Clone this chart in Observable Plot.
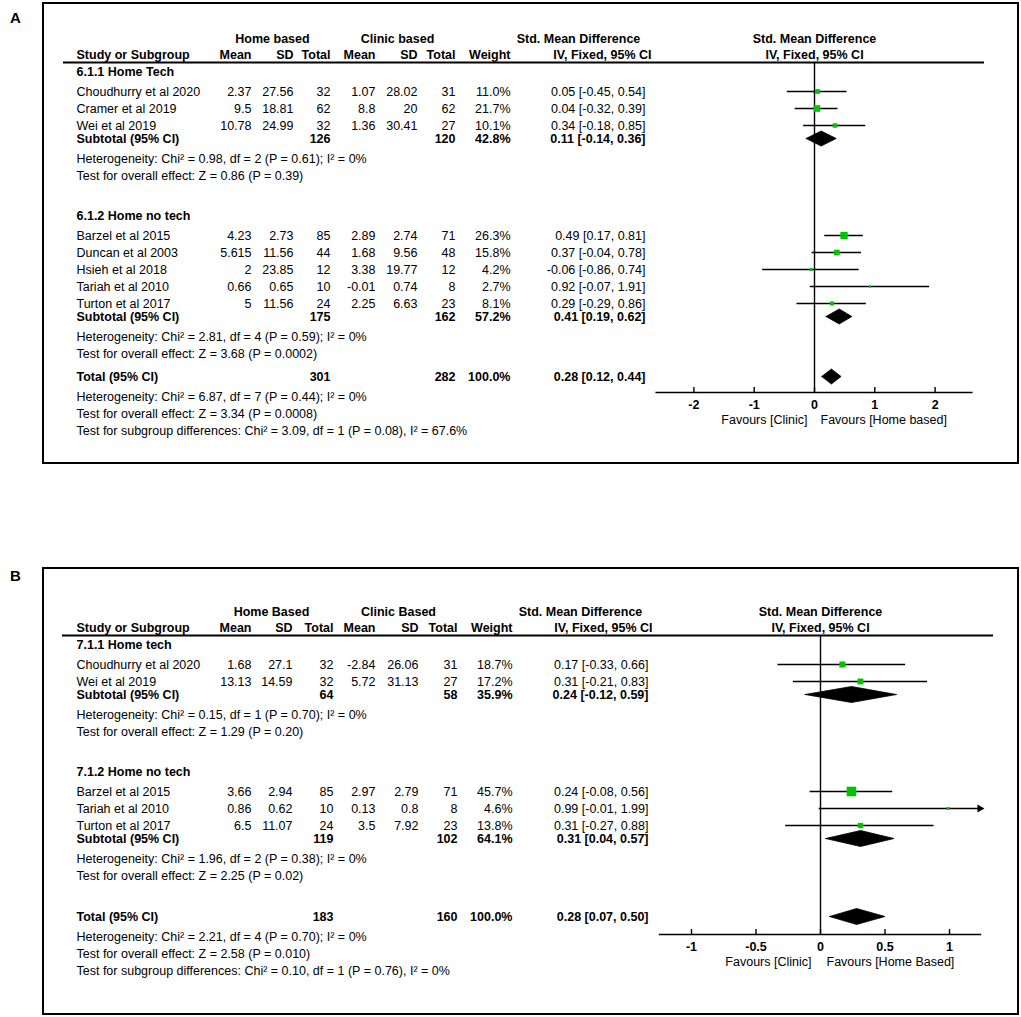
<!DOCTYPE html>
<html><head><meta charset="utf-8">
<script src="https://cdn.jsdelivr.net/npm/d3@7"></script>
<script src="https://cdn.jsdelivr.net/npm/@observablehq/plot@0.6"></script>
<style>
body{margin:0;background:#fff;font-family:"Liberation Sans",Arial,sans-serif;}
#page{position:relative;width:1021px;height:1017px;overflow:hidden;background:#fff;}
.panel{position:absolute;left:0;width:1021px;}
.box{position:absolute;border:2px solid #000;box-sizing:border-box;pointer-events:none;}
.lbl{position:absolute;font:bold 15px "Liberation Sans",Arial,sans-serif;line-height:16px;}
</style></head><body><div id="page"></div>
<script>
// ---------------- Panel A data ----------------
const A_colHeads = ["Home based", "Clinic based"];
const A_groups = ["6.1.1 Home Tech", "6.1.2 Home no tech"];
const A_study = ["Choudhurry et al 2020","Cramer et al 2019","Wei et al 2019","Barzel et al 2015","Duncan et al 2003","Hsieh et al 2018","Tariah et al 2010","Turton et al 2017"];
const A_group = [0,0,0,1,1,1,1,1];
const A_homeMean = [2.37, 9.5, 10.78, 4.23, 5.615, 2, 0.66, 5];
const A_homeSD = [27.56, 18.81, 24.99, 2.73, 11.56, 23.85, 0.65, 11.56];
const A_homeN = [32, 62, 32, 85, 44, 12, 10, 24];
const A_clinMean = [1.07, 8.8, 1.36, 2.89, 1.68, 3.38, -0.01, 2.25];
const A_clinSD = [28.02, 20, 30.41, 2.74, 9.56, 19.77, 0.74, 6.63];
const A_clinN = [31, 62, 27, 71, 48, 12, 8, 23];
const A_weight = [11.0, 21.7, 10.1, 26.3, 15.8, 4.2, 2.7, 8.1];
const A_smd = [0.05, 0.04, 0.34, 0.49, 0.37, -0.06, 0.92, 0.29];
const A_lo = [-0.45, -0.32, -0.18, 0.17, -0.04, -0.86, -0.07, -0.29];
const A_hi = [0.54, 0.39, 0.85, 0.81, 0.78, 0.74, 1.91, 0.86];
const A_subHomeN = [126, 175];
const A_subClinN = [120, 162];
const A_subWeight = [42.8, 57.2];
const A_subSmd = [0.11, 0.41];
const A_subLo = [-0.14, 0.19];
const A_subHi = [0.36, 0.62];
const A_subHet = ["Heterogeneity: Chi² = 0.98, df = 2 (P = 0.61); I² = 0%", "Heterogeneity: Chi² = 2.81, df = 4 (P = 0.59); I² = 0%"];
const A_subTest = ["Test for overall effect: Z = 0.86 (P = 0.39)", "Test for overall effect: Z = 3.68 (P = 0.0002)"];
const A_totN = [301, 282];
const A_totWeight = 100.0;
const A_totCI = [0.28, 0.12, 0.44];
const A_totNotes = ["Heterogeneity: Chi² = 6.87, df = 7 (P = 0.44); I² = 0%", "Test for overall effect: Z = 3.34 (P = 0.0008)", "Test for subgroup differences: Chi² = 3.09, df = 1 (P = 0.08), I² = 67.6%"];
const A_ticks = [-2, -1, 0, 1, 2];
const A_favours = ["Favours [Clinic]", "Favours [Home based]"];

// ---------------- Panel B data ----------------
const B_colHeads = ["Home Based", "Clinic Based"];
const B_groups = ["7.1.1 Home tech", "7.1.2 Home no tech"];
const B_study = ["Choudhurry et al 2020","Wei et al 2019","Barzel et al 2015","Tariah et al 2010","Turton et al 2017"];
const B_group = [0,0,1,1,1];
const B_homeMean = [1.68, 13.13, 3.66, 0.86, 6.5];
const B_homeSD = [27.1, 14.59, 2.94, 0.62, 11.07];
const B_homeN = [32, 32, 85, 10, 24];
const B_clinMean = [-2.84, 5.72, 2.97, 0.13, 3.5];
const B_clinSD = [26.06, 31.13, 2.79, 0.8, 7.92];
const B_clinN = [31, 27, 71, 8, 23];
const B_weight = [18.7, 17.2, 45.7, 4.6, 13.8];
const B_smd = [0.17, 0.31, 0.24, 0.99, 0.31];
const B_lo = [-0.33, -0.21, -0.08, -0.01, -0.27];
const B_hi = [0.66, 0.83, 0.56, 1.99, 0.88];
const B_subHomeN = [64, 119];
const B_subClinN = [58, 102];
const B_subWeight = [35.9, 64.1];
const B_subSmd = [0.24, 0.31];
const B_subLo = [-0.12, 0.04];
const B_subHi = [0.59, 0.57];
const B_subHet = ["Heterogeneity: Chi² = 0.15, df = 1 (P = 0.70); I² = 0%", "Heterogeneity: Chi² = 1.96, df = 2 (P = 0.38); I² = 0%"];
const B_subTest = ["Test for overall effect: Z = 1.29 (P = 0.20)", "Test for overall effect: Z = 2.25 (P = 0.02)"];
const B_totN = [183, 160];
const B_totWeight = 100.0;
const B_totCI = [0.28, 0.07, 0.50];
const B_totNotes = ["Heterogeneity: Chi² = 2.21, df = 4 (P = 0.70); I² = 0%", "Test for overall effect: Z = 2.58 (P = 0.010)", "Test for subgroup differences: Chi² = 0.10, df = 1 (P = 0.76), I² = 0%"];
const B_ticks = [-1, -0.5, 0, 0.5, 1];
const B_favours = ["Favours [Clinic]", "Favours [Home Based]"];

// shared header texts
const headTopCI = "Std. Mean Difference";
const headCols = ["Study or Subgroup", "Mean", "SD", "Total", "Mean", "SD", "Total", "Weight"];
const headCI = "IV, Fixed, 95% CI";

const GREEN = "#00c400";
const FONT = "'Liberation Sans', Arial, sans-serif";
const FS = 12.5;

const f2 = v => v.toFixed(2);
const ci = (m, l, h) => `${f2(m)} [${f2(l)}, ${f2(h)}]`;
const pct = v => v.toFixed(1) + "%";

function buildRows(d, L) {
  const rows = [];
  const hdr1 = L.header1Y, hdr2 = hdr1 + 16, line = hdr1 + 24;
  let y = line + 9;
  d.groups.forEach((g, gi) => {
    if (gi > 0) y += 40;
    rows.push({kind: "group", y, label: g});
    let first = true;
    d.study.forEach((s, i) => {
      if (d.group[i] !== gi) return;
      y += first ? 20 : 17; first = false;
      rows.push({kind: "study", y, label: s, hm: String(d.homeMean[i]), hsd: String(d.homeSD[i]), hn: String(d.homeN[i]),
        cm: String(d.clinMean[i]), csd: String(d.clinSD[i]), cn: String(d.clinN[i]), w: pct(d.weight[i]),
        ci: ci(d.smd[i], d.lo[i], d.hi[i]), smd: d.smd[i], lo: d.lo[i], hi: d.hi[i], wt: d.weight[i]});
    });
    y += 13;
    rows.push({kind: "sub", y, label: "Subtotal (95% CI)", hn: String(d.subHomeN[gi]), cn: String(d.subClinN[gi]), w: pct(d.subWeight[gi]),
      ci: ci(d.subSmd[gi], d.subLo[gi], d.subHi[gi]), smd: d.subSmd[gi], lo: d.subLo[gi], hi: d.subHi[gi]});
    y += 20; rows.push({kind: "note", y, label: d.subHet[gi]});
    y += 17; rows.push({kind: "note", y, label: d.subTest[gi]});
  });
  y += L.totalGap;
  const totalY = y;
  rows.push({kind: "sub", y, label: "Total (95% CI)", hn: String(d.totN[0]), cn: String(d.totN[1]), w: pct(d.totWeight),
    ci: ci(d.totCI[0], d.totCI[1], d.totCI[2]), smd: d.totCI[0], lo: d.totCI[1], hi: d.totCI[2]});
  d.totNotes.forEach((n, i) => { y += (i === 0 ? 20 : 17); rows.push({kind: "note", y, label: n}); });
  return {rows, hdr1, hdr2, line, totalY};
}

function makePanel(d, L) {
  const lay = buildRows(d, L);
  const rows = lay.rows;
  const [xmin, xmax] = L.xDomain;
  const axisY = lay.totalY + L.axisGap;
  const fL = L.frameLeft;
  const marks = [];
  const txt = (data, px, opts) => Plot.text(data, {frameAnchor: "left", fontSize: FS, fill: "#000", lineAnchor: "middle", ...opts, dx: px - fL});

  // headers
  const C = L.cols;
  marks.push(txt([d.colHeads[0]], C.homeHead, {y: () => lay.hdr1, text: t => t, textAnchor: "middle", fontWeight: "bold"}));
  marks.push(txt([d.colHeads[1]], C.clinHead, {y: () => lay.hdr1, text: t => t, textAnchor: "middle", fontWeight: "bold"}));
  marks.push(txt([headTopCI], C.ciHead1, {y: () => lay.hdr1, text: t => t, textAnchor: "middle", fontWeight: "bold"}));
  const headX = [C.name, C.hm, C.hsd, C.hn, C.cm, C.csd, C.cn, C.w];
  headCols.forEach((h, i) => {
    marks.push(txt([h], headX[i], {y: () => lay.hdr2, text: t => t, textAnchor: i === 0 ? "start" : "end", fontWeight: "bold"}));
  });
  marks.push(txt([headCI], C.ciHead2, {y: () => lay.hdr2, text: t => t, textAnchor: "end", fontWeight: "bold"}));
  // forest headers
  marks.push(Plot.text([headTopCI], {x: () => 0, y: () => lay.hdr1, text: t => t, fontWeight: "bold", fontSize: FS}));
  marks.push(Plot.text([headCI], {x: () => 0, y: () => lay.hdr2, text: t => t, fontWeight: "bold", fontSize: FS}));
  // header line
  marks.push(Plot.ruleY([lay.line], {y: v => v, stroke: "#000", strokeWidth: 1.8}));

  // table columns
  const cols = [["label", C.name, "start"], ["hm", C.hm, "end"], ["hsd", C.hsd, "end"], ["hn", C.hn, "end"],
    ["cm", C.cm, "end"], ["csd", C.csd, "end"], ["cn", C.cn, "end"], ["w", C.w, "end"], ["ci", C.ci, "end"]];
  const reg = rows.filter(r => r.kind === "study" || r.kind === "note");
  const bold = rows.filter(r => r.kind === "group" || r.kind === "sub");
  for (const [key, px, anchor] of cols) {
    marks.push(txt(reg.filter(r => r[key] != null), px, {y: "y", text: key, textAnchor: anchor}));
    marks.push(txt(bold.filter(r => r[key] != null), px, {y: "y", text: key, textAnchor: anchor, fontWeight: "bold"}));
  }

  // forest
  const studies = rows.filter(r => r.kind === "study");
  const subs = rows.filter(r => r.kind === "sub");
  marks.push(Plot.ruleX([0], {x: v => v, y1: () => lay.line, y2: () => axisY, stroke: "#000", strokeWidth: 1.4}));
  marks.push(Plot.ruleY(studies, {y: "y", x1: "lo", x2: r => Math.min(r.hi, xmax), stroke: "#000", strokeWidth: 1.4}));
  marks.push(Plot.dot(studies.filter(r => r.hi > xmax), {x: () => xmax, y: "y", symbol: "triangle", rotate: 90, r: 3, dx: -2, fill: "#000", stroke: "none"}));
  marks.push(Plot.dot(studies, {x: "smd", y: "y", r: "wt", symbol: "square", fill: GREEN, stroke: "none"}));
  const dia = subs.flatMap((r, i) => [
    {id: i, x: r.lo, y: r.y}, {id: i, x: r.smd, y: r.y - L.diaH}, {id: i, x: r.hi, y: r.y}, {id: i, x: r.smd, y: r.y + L.diaH}, {id: i, x: r.lo, y: r.y}
  ]);
  marks.push(Plot.line(dia, {x: "x", y: "y", z: "id", fill: "#000", stroke: "#000", strokeWidth: 0.8}));

  // axis
  marks.push(Plot.ruleY([axisY], {y: v => v, x1: () => xmin, x2: () => xmax, stroke: "#000", strokeWidth: 1.6}));
  marks.push(Plot.ruleX(d.ticks, {x: v => v, y1: () => axisY - 5, y2: () => axisY, stroke: "#000", strokeWidth: 1.4}));
  marks.push(Plot.text(d.ticks, {x: v => v, y: () => axisY + 12, text: v => String(v), fontWeight: "bold", fontSize: FS}));
  marks.push(Plot.text([d.favours[0]], {x: () => 0, y: () => axisY + 27, text: t => t, textAnchor: "end", dx: L.favL, fontSize: FS}));
  marks.push(Plot.text([d.favours[1]], {x: () => 0, y: () => axisY + 27, text: t => t, textAnchor: "start", dx: L.favR, fontSize: FS}));

  return Plot.plot({
    width: 1021, height: L.height,
    marginLeft: fL, marginRight: 1021 - L.frameRight, marginTop: 0, marginBottom: 0,
    x: {domain: [xmin, xmax], range: [L.zeroX + xmin * L.ppu, L.zeroX + xmax * L.ppu], axis: null},
    y: {domain: [L.top, L.top + L.height], range: [0, L.height], axis: null},
    r: {type: "sqrt", domain: [0, 100], range: [0, 8]},
    style: {fontFamily: FONT, fontSize: FS + "px", color: "#000", background: "none", overflow: "visible"},
    marks
  });
}

const dataA = {colHeads: A_colHeads, groups: A_groups, study: A_study, group: A_group, homeMean: A_homeMean, homeSD: A_homeSD, homeN: A_homeN,
  clinMean: A_clinMean, clinSD: A_clinSD, clinN: A_clinN, weight: A_weight, smd: A_smd, lo: A_lo, hi: A_hi,
  subHomeN: A_subHomeN, subClinN: A_subClinN, subWeight: A_subWeight, subSmd: A_subSmd, subLo: A_subLo, subHi: A_subHi,
  subHet: A_subHet, subTest: A_subTest, totN: A_totN, totWeight: A_totWeight, totCI: A_totCI, totNotes: A_totNotes,
  ticks: A_ticks, favours: A_favours};
const dataB = {colHeads: B_colHeads, groups: B_groups, study: B_study, group: B_group, homeMean: B_homeMean, homeSD: B_homeSD, homeN: B_homeN,
  clinMean: B_clinMean, clinSD: B_clinSD, clinN: B_clinN, weight: B_weight, smd: B_smd, lo: B_lo, hi: B_hi,
  subHomeN: B_subHomeN, subClinN: B_subClinN, subWeight: B_subWeight, subSmd: B_subSmd, subLo: B_subLo, subHi: B_subHi,
  subHet: B_subHet, subTest: B_subTest, totN: B_totN, totWeight: B_totWeight, totCI: B_totCI, totNotes: B_totNotes,
  ticks: B_ticks, favours: B_favours};

const layA = {top: 0, height: 470, header1Y: 38, frameLeft: 63, frameRight: 984, zeroX: 814, ppu: 60.3, xDomain: [-2.63, 2.63],
  totalGap: 23, axisGap: 16, diaH: 7.5, favL: -7, favR: 6,
  cols: {name: 76, hm: 251, hsd: 293, hn: 330, cm: 375, csd: 417, cn: 455, w: 510, ci: 645, homeHead: 272, clinHead: 397, ciHead1: 578, ciHead2: 651}};
const layB = {top: 560, height: 457, header1Y: 611, frameLeft: 62, frameRight: 993, zeroX: 820, ppu: 129, xDomain: [-1.25, 1.25],
  totalGap: 41, axisGap: 18, diaH: 8, favL: -9, favR: 6,
  cols: {name: 76, hm: 251, hsd: 292, hn: 333, cm: 375, csd: 418, cn: 457, w: 512, ci: 648, homeHead: 271, clinHead: 398, ciHead1: 580, ciHead2: 652}};

const page = document.getElementById("page");
function addPanel(d, L, box, label, labelTop) {
  const wrap = document.createElement("div");
  wrap.className = "panel";
  wrap.style.top = L.top + "px";
  wrap.appendChild(makePanel(d, L));
  page.appendChild(wrap);
  const b = document.createElement("div");
  b.className = "box";
  Object.assign(b.style, {left: box[0] + "px", top: box[1] + "px", width: (box[2] - box[0]) + "px", height: (box[3] - box[1]) + "px"});
  page.appendChild(b);
  const l = document.createElement("div");
  l.className = "lbl";
  l.textContent = label;
  Object.assign(l.style, {left: "10px", top: labelTop + "px"});
  page.appendChild(l);
}
addPanel(dataA, layA, [42, 2, 1019, 464], "A", 10);
addPanel(dataB, layB, [42, 567, 1019, 1015], "B", 568);
</script></body></html>
